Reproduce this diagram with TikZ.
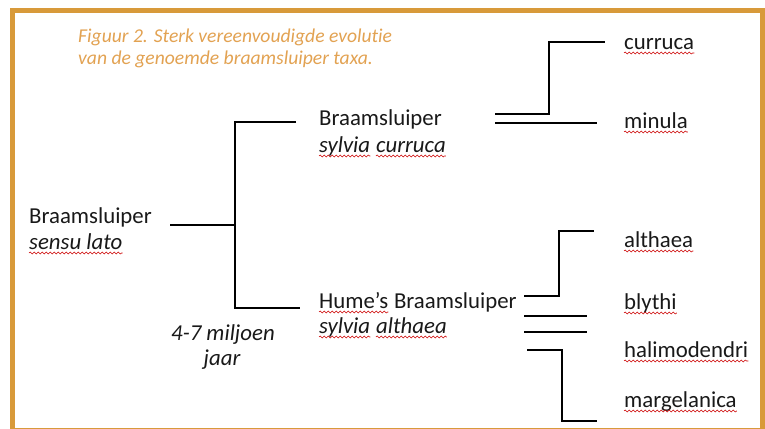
\documentclass[tikz,border=0pt]{standalone}
\usepackage{fontspec}
\setmainfont[Ligatures=NoCommon]{Carlito}
\usetikzlibrary{decorations.pathmorphing}
\definecolor{framec}{RGB}{216,154,58}
\definecolor{titlec}{RGB}{226,162,82}
\definecolor{txt}{RGB}{25,25,25}
\begin{document}
\begin{tikzpicture}[x=1pt,y=-1pt,
  lbl/.style={anchor=base west, inner sep=0pt, text=txt, font=\fontsize{22.8}{26}\selectfont},
  ilbl/.style={anchor=base west, inner sep=0pt, text=txt, font=\fontsize{22.8}{26}\selectfont\itshape},
  ttl/.style={anchor=base west, inner sep=0pt, text=titlec, font=\fontsize{19.6}{24}\selectfont\itshape},
  branch/.style={line width=2pt, black},
  wave/.style={red!80!black, line width=0.55pt, decorate, decoration={snake, amplitude=1pt, segment length=4pt}}]
\useasboundingbox (0,0) rectangle (765,428);
\begin{scope}
  \clip (0,0) rectangle (765,428);
  \draw[framec, line width=5pt] (12.5,10.5) rectangle (762,430.5);
\end{scope}

% title
\node[ttl] (t1) at (78,42) {Figuur 2. Sterk vereenvoudigde evolutie};
\node[ttl] (t2) at (78,64) {van de genoemde braamsluiper taxa.};

% root
\node[lbl] (root1) at (29,223) {Braamsluiper};
\node[ilbl] (root2) at (29,249) {sensu lato};

% age
\node[anchor=base, inner sep=0pt, text=txt, font=\fontsize{22.8}{26}\selectfont\itshape] (age1) at (223,340) {4-7 miljoen};
\node[anchor=base, inner sep=0pt, text=txt, font=\fontsize{22.8}{26}\selectfont\itshape] (age2) at (222,365) {jaar};

% middle taxa
\node[lbl] (sc1) at (319,125) {Braamsluiper};
\node[ilbl] (sc2a) at (319,152) {sylvia};
\node[ilbl, anchor=base west] (sc2b) at ([xshift=5.5pt]sc2a.base east) {curruca};
\node[lbl] (sa1a) at (319,308) {Hume’s};
\node[lbl, anchor=base west] (sa1b) at ([xshift=5.5pt]sa1a.base east) {Braamsluiper};
\node[ilbl] (sa2a) at (319,333) {sylvia};
\node[ilbl, anchor=base west] (sa2b) at ([xshift=5.5pt]sa2a.base east) {althaea};

% leaves
\node[lbl] (cur) at (624,49) {curruca};
\node[lbl] (min) at (624,128) {minula};
\node[lbl] (alt) at (624,247) {althaea};
\node[lbl] (bly) at (624,309) {blythi};
\node[lbl] (hal) at (624,357) {halimodendri};
\node[lbl] (mar) at (624,407) {margelanica};

% junction coordinates
\coordinate (r0) at (170,225);
\coordinate (rj) at (235,225);
\coordinate (rt) at (235,122);
\coordinate (rb) at (235,308);
\coordinate (rte) at (296,122);
\coordinate (rbe) at (300,308);

\coordinate (a0) at (495,114);
\coordinate (aj) at (549,114);
\coordinate (at) at (549,42);
\coordinate (ate) at (605,42);
\coordinate (m0) at (495,123);
\coordinate (me) at (597,123);

\coordinate (b0) at (524,296);
\coordinate (bj) at (559,296);
\coordinate (bt) at (559,231);
\coordinate (bte) at (594,231);
\coordinate (c0) at (524,316);
\coordinate (ce) at (587,316);
\coordinate (d0) at (524,332);
\coordinate (de) at (587,332);
\coordinate (e0) at (527,350);
\coordinate (ej) at (562,350);
\coordinate (eb) at (562,421);
\coordinate (ebe) at (597,421);

% branches
\draw[branch] (r0) -- (rj);
\draw[branch] (rte) -- (rt) -- (rb) -- (rbe);
\draw[branch] (a0) -- (aj) -- (at) -- (ate);
\draw[branch] (m0) -- (me);
\draw[branch] (b0) -- (bj) -- (bt) -- (bte);
\draw[branch] (c0) -- (ce);
\draw[branch] (d0) -- (de);
\draw[branch] (e0) -- (ej) -- (eb) -- (ebe);

% spell-check underlines
\foreach \n in {root2,sc2a,sc2b,sa1a,sa2a,sa2b,cur,min,alt,bly,hal,mar}{
  \draw[wave] ([yshift=-4pt]\n.base west) -- ([yshift=-4pt]\n.base east);
}
\end{tikzpicture}
\end{document}
